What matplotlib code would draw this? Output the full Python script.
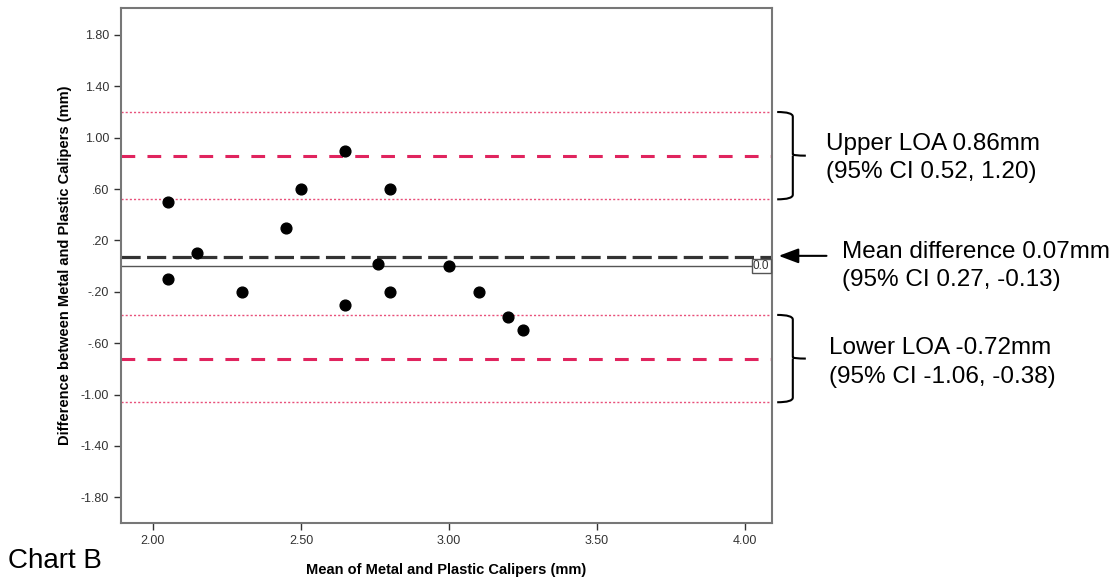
import numpy as np
import matplotlib.pyplot as plt
from matplotlib.path import Path
from matplotlib.patches import PathPatch

# Bland-Altman data
mean_mm = [2.05, 2.05, 2.15, 2.30, 2.45, 2.50, 2.65, 2.65, 2.76, 2.80, 2.80, 3.00, 3.10, 3.20, 3.25]
diff_mm = [0.50, -0.10, 0.10, -0.20, 0.30, 0.60, 0.90, -0.30, 0.02, 0.60, -0.20, 0.00, -0.20, -0.40, -0.50]

mean_diff = 0.07
upper_loa = 0.86
upper_ci = (0.52, 1.20)
lower_loa = -0.72
lower_ci = (-1.06, -0.38)

x_ticks = [2.0, 2.5, 3.0, 3.5, 4.0]
x_tick_labels = ["2.00", "2.50", "3.00", "3.50", "4.00"]
y_ticks = [1.8, 1.4, 1.0, 0.6, 0.2, -0.2, -0.6, -1.0, -1.4, -1.8]
y_tick_labels = ["1.80", "1.40", "1.00", ".60", ".20", "-.20", "-.60", "-1.00", "-1.40", "-1.80"]

plt.rcParams['font.family'] = ['Liberation Sans', 'DejaVu Sans']

red = '#e0245e'
pink = '#e8507a'

fig = plt.figure(figsize=(11.13, 5.82), dpi=100)
ax = fig.add_axes([0.1087, 0.1014, 0.5849, 0.8849])

# reference lines
ax.axhline(0, color='#555555', lw=1.0, zorder=1)
ax.axhline(mean_diff, color='#333333', lw=2.3, dashes=(6, 2), zorder=2)
ax.axhline(upper_loa, color=red, lw=2.2, dashes=(4.5, 4), zorder=2)
ax.axhline(lower_loa, color=red, lw=2.2, dashes=(4.5, 4), zorder=2)
for v in upper_ci + lower_ci:
	ax.axhline(v, color=pink, lw=1.0, dashes=(1.5, 1.5), zorder=2)

ax.scatter(mean_mm, diff_mm, s=60, color='black', zorder=3)

ax.set_xlim(1.892, 4.091)
ax.set_ylim(-2.0, 2.01)
ax.set_xticks(x_ticks)
ax.set_xticklabels(x_tick_labels)
ax.set_yticks(y_ticks)
ax.set_yticklabels(y_tick_labels)
ax.tick_params(direction='out', length=5, width=1, color='#333333',
	labelsize=9, labelcolor='#333333')

for sp in ax.spines.values():
	sp.set_color('#777777')
	sp.set_linewidth(1.5)

ax.set_xlabel("Mean of Metal and Plastic Calipers (mm)", fontsize=10.5, fontweight='bold')
ax.set_ylabel("Difference between Metal and Plastic Calipers (mm)", fontsize=10.5, fontweight='bold')
ax.xaxis.set_label_coords(0.5, -0.077)
ax.yaxis.set_label_coords(-0.075, 0.5)

# small "0.0" label at the end of the zero line
ax.text(0.996, 0, "0.0", transform=ax.get_yaxis_transform(), ha='right', va='center',
	fontsize=8.5, color='#333333',
	bbox=dict(boxstyle='square,pad=0.1', fc='white', ec='#555555', lw=1))

# annotations to the right of the plot
tr = ax.get_yaxis_transform()

def brace(lo, hi):
	mid = (lo + hi) / 2
	x0, x1, x2 = 1.008, 1.032, 1.052
	c = 0.012
	verts = [(x0, hi), (x1, hi), (x1, hi - c * 3), (x1, mid + c), (x1, mid), (x2, mid),
		(x1, mid), (x1, mid - c), (x1, lo + c * 3), (x1, lo), (x0, lo)]
	codes = [Path.MOVETO, Path.CURVE3, Path.CURVE3, Path.LINETO, Path.CURVE3, Path.CURVE3,
		Path.MOVETO, Path.CURVE3, Path.LINETO, Path.CURVE3, Path.CURVE3]
	ax.add_patch(PathPatch(Path(verts, codes), transform=tr, fill=False, lw=1.5,
		color='black', clip_on=False))

brace(upper_ci[0], upper_ci[1])
brace(lower_ci[0], lower_ci[1])

ax.annotate("", xy=(1.006, mean_diff + 0.01), xytext=(1.088, mean_diff + 0.01),
	xycoords=tr, textcoords=tr,
	arrowprops=dict(arrowstyle='-|>,head_length=1.2,head_width=0.45', color='black', lw=1.5))

ann_size = 17.5
ax.text(1.083, upper_loa - 0.02, "Upper LOA 0.86mm\n(95% CI 0.52, 1.20)", transform=tr,
	ha='left', va='center', fontsize=ann_size, linespacing=1.38, clip_on=False)
ax.text(1.108, mean_diff - 0.07, "Mean difference 0.07mm\n(95% CI 0.27, -0.13)", transform=tr,
	ha='left', va='center', fontsize=ann_size, linespacing=1.38, clip_on=False)
ax.text(1.088, lower_loa - 0.03, "Lower LOA -0.72mm\n(95% CI -1.06, -0.38)", transform=tr,
	ha='left', va='center', fontsize=ann_size, linespacing=1.38, clip_on=False)

fig.text(8 / 1113, 1 - 561 / 582, "Chart B", fontsize=20, ha='left', va='center')

fig.savefig("out.png", dpi=100)
